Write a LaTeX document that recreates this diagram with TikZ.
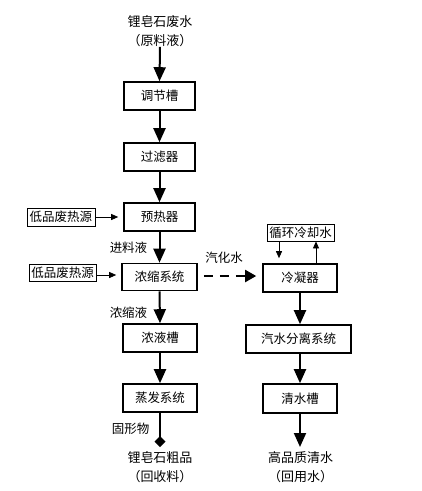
\documentclass[tikz,border=0pt]{standalone}
\usepackage{fontspec}
\setmainfont{Noto Sans CJK SC}
\usetikzlibrary{arrows.meta}
\begin{document}
\begin{tikzpicture}[x=1pt,y=-1pt,
  box/.style={draw, line width=1.6pt, minimum height=28pt, inner sep=0pt, font=\fontsize{12.5}{14}\selectfont},
  sbox/.style={draw, line width=0.8pt, minimum height=17pt, inner sep=0pt, font=\fontsize{12.5}{14}\selectfont},
  txt/.style={align=center, inner sep=0pt, font=\fontsize{13}{19}\selectfont},
  lbl/.style={inner sep=0pt, font=\fontsize{12.5}{14}\selectfont},
  bigarrow/.style={line width=2pt, -{Triangle[length=14pt,width=12pt]}},
  thinarrow/.style={line width=0.8pt, -{Triangle[length=7pt,width=6pt]}},
  dasharrow/.style={line width=2pt, dash pattern=on 9pt off 7pt, -{Triangle[length=11pt,width=12pt]}},
  diamondline/.style={line width=2pt, -{Diamond[length=11pt,width=11pt]}}]
\useasboundingbox (0,0) rectangle (422,491);
% nodes
\node[txt] (src) at (160,31) {锂皂石废水\\（原料液）};
\node[box, minimum width=71pt] (tj) at (159.5,96) {调节槽};
\node[box, minimum width=71pt] (gl) at (159.5,157) {过滤器};
\node[box, minimum width=71pt] (yr) at (159.5,217) {预热器};
\node[box, minimum width=75pt, minimum height=27pt] (ns) at (159.5,277) {浓缩系统};
\node[box, minimum width=74pt] (ny) at (160,338) {浓液槽};
\node[box, minimum width=74pt] (zf) at (160,398) {蒸发系统};
\node[box, minimum width=74pt] (ln) at (300,278) {冷凝器};
\node[box, minimum width=105pt] (qs) at (298.5,339) {汽水分离系统};
\node[box, minimum width=74pt, minimum height=29pt] (qsc) at (300,398.5) {清水槽};
\node[sbox, minimum width=67pt] (cw) at (300.5,232.5) {循环冷却水};
\node[sbox, minimum width=68pt, minimum height=18pt] (h1) at (61,217) {低品废热源};
\node[sbox, minimum width=67pt] (h2) at (62.5,273) {低品废热源};
\node[txt] (prod) at (160,467) {锂皂石粗品\\（回收料）};
\node[txt] (water) at (300.5,467) {高品质清水\\（回用水）};
\node[lbl] (l1) at (128.5,248) {进料液};
\node[lbl] (l2) at (128.5,313) {浓缩液};
\node[lbl] (l3) at (130.5,429) {固形物};
\node[lbl] (l4) at (224,258) {汽化水};
\coordinate (dia) at (160,447);
\coordinate (wend) at (300,447);
% connectors
\draw[bigarrow] (src.south) -- (tj.north);
\draw[bigarrow] (tj.south) -- (gl.north);
\draw[bigarrow] (gl.south) -- (yr.north);
\draw[bigarrow] (yr.south) -- (ns.north);
\draw[bigarrow] (ns.south) -- (ny.north);
\draw[bigarrow] (ny.south) -- (zf.north);
\draw[diamondline] (zf.south) -- (dia);
\draw[bigarrow] (ln.south) -- (ln.south |- qs.north);
\draw[bigarrow] (qs.south -| qsc.north) -- (qsc.north);
\draw[bigarrow] (qsc.south) -- (wend);
\draw[dasharrow, shorten <=6pt, shorten >=6pt] (ns.east |- 0,276) -- (ln.west |- 0,276);
\draw[thinarrow, shorten >=5pt] (h1.east) -- (yr.west |- h1.east);
\draw[thinarrow, shorten >=5pt] (h2.east |- 0,275) -- (ns.west |- 0,275);
\draw[thinarrow, shorten >=5pt] ([xshift=-21.5pt]cw.south) -- ([xshift=-21.5pt]cw.south |- ln.north);
\draw[thinarrow] ([xshift=15.5pt]cw.south |- ln.north) -- ([xshift=15.5pt]cw.south);
\end{tikzpicture}
\end{document}
